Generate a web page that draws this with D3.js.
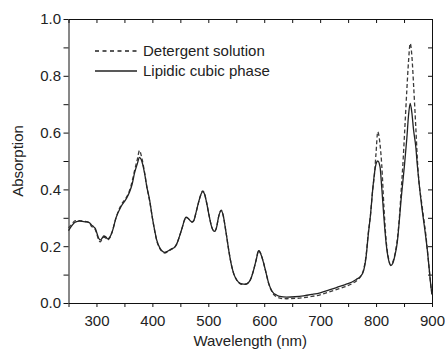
<!DOCTYPE html>
<html>
<head>
<meta charset="utf-8">
<script src="https://cdn.jsdelivr.net/npm/d3@7"></script>
<style>
  body { margin: 0; background: #fff; }
  svg { font-family: "Liberation Sans", Arial, Helvetica, sans-serif; }
  .axis path, .axis line { stroke: #111; }
  .axis text { fill: #222; font-size: 15px; }
</style>
</head>
<body>
<div id="chart"></div>
<script>
// wavelengths (nm) shared by both spectra
var wavelengths = [250,255,262,270,280,287,291,295,298,301,304,307,310,313,317,320,324,328,335,344,
  353,359,364,368,373,377,380,386,390,395,400,404,408,413,418,422,427,433,440,444,
  448,453,457,460,464,467,471,474,478,482,486,490,493,497,502,506,511,515,518,523,
  527,530,533,537,542,546,551,556,560,566,572,577,581,586,590,594,599,604,608,613,
  617,622,628,640,655,670,685,700,715,730,745,757,766,772,778,782,786,790,794,797,
  800,803,807,810,814,818,822,826,830,834,838,842,845,848,851,855,858,861,864,867,
  871,874,877,881,885,889,892,895,898,900];

// lipidic cubic phase (solid)
var lcp = [0.255,0.27,0.285,0.288,0.286,0.283,0.275,0.268,0.262,0.245,0.228,0.222,0.228,0.236,0.232,0.226,0.232,0.25,0.30,0.34,
  0.366,0.39,0.42,0.457,0.49,0.513,0.505,0.457,0.41,0.363,0.30,0.257,0.22,0.195,0.182,0.178,0.182,0.189,0.197,0.21,
  0.232,0.263,0.29,0.302,0.298,0.291,0.285,0.29,0.318,0.35,0.378,0.392,0.385,0.353,0.302,0.268,0.252,0.268,0.300,0.325,
  0.305,0.27,0.232,0.18,0.128,0.1,0.081,0.07,0.067,0.066,0.072,0.09,0.116,0.155,0.184,0.172,0.14,0.1,0.069,0.045,
  0.034,0.028,0.023,0.021,0.022,0.025,0.03,0.036,0.045,0.055,0.065,0.074,0.085,0.093,0.116,0.16,0.24,0.31,0.40,0.455,
  0.49,0.50,0.48,0.41,0.30,0.21,0.155,0.132,0.14,0.17,0.215,0.3,0.37,0.43,0.49,0.58,0.66,0.703,0.67,0.61,
  0.55,0.48,0.42,0.35,0.29,0.23,0.18,0.12,0.06,0.03];

// detergent solution (dashed)
var detergent = [0.265,0.275,0.29,0.29,0.287,0.283,0.27,0.265,0.258,0.24,0.222,0.215,0.225,0.232,0.228,0.222,0.23,0.25,0.30,0.345,
  0.37,0.395,0.43,0.465,0.505,0.537,0.52,0.46,0.41,0.36,0.30,0.255,0.218,0.193,0.18,0.176,0.18,0.188,0.197,0.21,
  0.232,0.263,0.29,0.302,0.298,0.291,0.285,0.29,0.318,0.35,0.378,0.395,0.387,0.353,0.302,0.268,0.252,0.268,0.300,0.327,
  0.305,0.27,0.232,0.18,0.128,0.1,0.08,0.069,0.066,0.066,0.072,0.09,0.116,0.155,0.186,0.173,0.14,0.1,0.068,0.043,
  0.03,0.022,0.017,0.015,0.016,0.019,0.023,0.029,0.038,0.048,0.058,0.068,0.08,0.093,0.12,0.165,0.245,0.31,0.40,0.45,
  0.53,0.603,0.56,0.49,0.34,0.22,0.16,0.135,0.145,0.175,0.225,0.31,0.40,0.49,0.60,0.75,0.85,0.914,0.87,0.77,
  0.62,0.50,0.42,0.36,0.30,0.24,0.18,0.12,0.06,0.03];

var seriesNames = ["Detergent solution", "Lipidic cubic phase"];
var xTicks = [300, 400, 500, 600, 700, 800, 900];
var yTicks = [0.0, 0.2, 0.4, 0.6, 0.8, 1.0];

var W = 445, H = 352;
var margin = { top: 19, right: 13, bottom: 49, left: 68.5 };
var width = W - margin.left - margin.right;
var height = H - margin.top - margin.bottom;

var svg1 = d3.select("#chart").append("svg").attr("width", W).attr("height", H);
var svg = svg1.append("g").attr("transform", `translate(${margin.left}, ${margin.top})`);

var x = d3.scaleLinear().domain([250, 900]).range([0, width]);
var y = d3.scaleLinear().domain([0, 1]).range([height, 0]);

var xMinor = d3.range(250, 901, 50);
var yMinor = d3.range(0, 11).map(function(i) { return i / 10; });

// bottom axis, outward ticks
svg.append("g").attr("class", "axis")
  .attr("transform", "translate(0," + height + ")")
  .call(d3.axisBottom(x).tickValues(xMinor).tickSize(4).tickSizeOuter(0)
    .tickFormat(function(d) { return xTicks.indexOf(d) >= 0 ? d : ""; }))
  .call(function(g) { g.selectAll("text").attr("dy", "1.05em"); });

// top axis, inward ticks
svg.append("g").attr("class", "axis")
  .call(d3.axisBottom(x).tickValues(xMinor).tickSize(4).tickSizeOuter(0).tickFormat(""));

// left axis, outward ticks
svg.append("g").attr("class", "axis")
  .call(d3.axisLeft(y).tickValues(yMinor).tickSize(5).tickSizeOuter(0)
    .tickFormat(function(d) {
      var r = Math.round(d * 10);
      return r % 2 === 0 ? d3.format(".1f")(d) : "";
    }))
  .call(function(g) { g.selectAll("text").attr("x", -7.5); });

// right axis, inward ticks
svg.append("g").attr("class", "axis")
  .attr("transform", "translate(" + width + ",0)")
  .call(d3.axisLeft(y).tickValues(yMinor).tickSize(4).tickSizeOuter(0).tickFormat(""));

// data lines
var ptsL = wavelengths.map(function(w, i) { return [w, lcp[i]]; });
var ptsD = wavelengths.map(function(w, i) { return [w, detergent[i]]; });

var line = d3.line()
  .x(function(d) { return x(d[0]); })
  .y(function(d) { return y(d[1]); })
  .curve(d3.curveMonotoneX);

svg.append("path").datum(ptsD)
  .attr("fill", "none").attr("stroke", "#3a3a3a").attr("stroke-width", 1.3)
  .attr("stroke-dasharray", "4,2.5")
  .attr("d", line);

svg.append("path").datum(ptsL)
  .attr("fill", "none").attr("stroke", "#222").attr("stroke-width", 1.3)
  .attr("d", line);

// legend
var legend = svg.append("g").attr("transform", "translate(" + (95 - margin.left) + "," + (51 - margin.top) + ")");
seriesNames.forEach(function(name, i) {
  legend.append("line")
    .attr("x1", 0).attr("x2", 42).attr("y1", i * 20).attr("y2", i * 20)
    .attr("stroke", "#222").attr("stroke-width", 1.4)
    .attr("stroke-dasharray", i === 0 ? "4,3.5" : null);
  legend.append("text")
    .attr("x", 48).attr("y", i * 20 + 5)
    .attr("font-size", "15px").attr("fill", "#222")
    .text(name);
});

// axis titles
svg1.append("text")
  .attr("x", margin.left + width / 2).attr("y", 346)
  .attr("text-anchor", "middle").attr("font-size", "15px").attr("fill", "#222")
  .text("Wavelength (nm)");

svg1.append("text")
  .attr("transform", "translate(23," + (margin.top + height / 2) + ") rotate(-90)")
  .attr("text-anchor", "middle").attr("font-size", "15px").attr("fill", "#222")
  .text("Absorption");
</script>
</body>
</html>
